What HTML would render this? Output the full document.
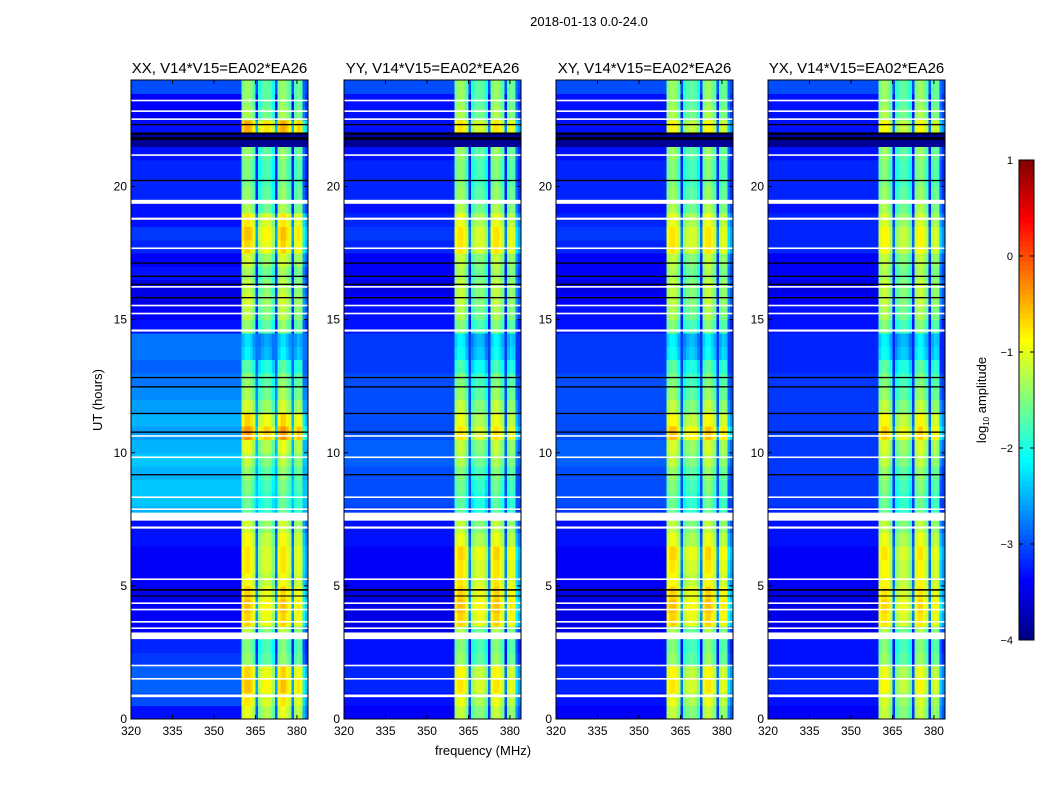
<!DOCTYPE html>
<html><head><meta charset="utf-8">
<style>
body{margin:0;background:#fff;font-family:"Liberation Sans",sans-serif;}
svg text{font-family:"Liberation Sans",sans-serif;fill:#000;}
</style></head>
<body>
<svg id="fig" width="1050" height="800" xmlns="http://www.w3.org/2000/svg">
<rect width="1050" height="800" fill="#fff"/>
<text x="589" y="26" font-size="13" text-anchor="middle">2018-01-13 0.0-24.0</text>
<text x="483" y="755" font-size="13" text-anchor="middle">frequency (MHz)</text>
<text x="102" y="400" font-size="13" text-anchor="middle" transform="rotate(-90 102 400)">UT (hours)</text>
<g id="panels"></g>
<g id="cbar"></g>
</svg>
<script>
// ---- data ----
const panelTitles = ["XX, V14*V15=EA02*EA26","YY, V14*V15=EA02*EA26","XY, V14*V15=EA02*EA26","YX, V14*V15=EA02*EA26"];
const xTicks = [320,335,350,365,380];
const yTicks = [0,5,10,15,20];
const cbTicks = [-4,-3,-2,-1,0,1];
// in-band column offset (1 MHz columns, 320..383)
const bandShape = [null,null,null,null,null,null,null,null,null,null,null,null,null,null,null,null,
 null,null,null,null,null,null,null,null,null,null,null,null,null,null,null,null,
 null,null,null,null,null,null,null,null,-0.2,0,0,-0.1,-0.4,-2.0,-0.6,-0.4,
 -0.3,-0.3,-0.4,-0.7,-2.0,-0.2,0,0,-0.2,-0.4,-2.0,-0.4,-0.2,-0.3,-1.5,-1.8];
// half-hour rows 0..23.5 h
const bgXX = [-3.3,-3.0,-2.9,-2.9,-3.1,-3.2,-3.4,-3.4,-3.4,-3.5,-3.4,-3.4,-3.4,-3.3,-3.3,-2.5,-2.4,-2.4,-2.5,-2.4,-2.5,-2.6,-2.5,-2.6,-2.7,-2.8,-2.9,-2.8,-2.8,-3.3,-3.4,-3.5,-3.5,-3.3,-3.4,-3.2,-3.1,-3.3,-3.3,-3.2,-3.2,-3.2,-3.3,-3.9,-3.3,-3.4,-3.4,-3.0];
const bandXX = [-0.8,-0.6,-0.4,-0.5,-1.2,-1.3,-1.0,-0.5,-0.4,-0.5,-0.7,-0.6,-0.6,-0.7,-0.9,-1.4,-1.4,-1.3,-1.2,-1.0,-0.8,-0.2,-0.5,-0.9,-1.1,-1.2,-1.5,-2.0,-2.1,-1.2,-1.0,-0.9,-1.0,-1.1,-0.9,-0.5,-0.4,-0.6,-1.1,-1.2,-1.3,-1.3,-1.2,-2.5,-0.3,-1.1,-1.2,-1.2];
const bgYY = [-3.4,-3.3,-3.2,-3.2,-3.3,-3.3,-3.5,-3.5,-3.5,-3.5,-3.4,-3.4,-3.4,-3.3,-3.3,-3.1,-3.0,-3.0,-3.0,-2.9,-2.9,-3.0,-3.0,-3.0,-3.0,-3.0,-3.1,-3.1,-3.1,-3.3,-3.3,-3.4,-3.5,-3.4,-3.4,-3.2,-3.1,-3.2,-3.3,-3.2,-3.2,-3.2,-3.3,-3.9,-3.3,-3.3,-3.3,-3.0];
const bandYY = [-1.0,-0.8,-0.6,-0.7,-1.2,-1.3,-1.1,-0.5,-0.4,-0.5,-0.6,-0.6,-0.5,-0.8,-1.0,-1.5,-1.5,-1.4,-1.3,-1.1,-1.0,-0.6,-0.8,-1.0,-1.2,-1.3,-1.6,-1.9,-2.0,-1.3,-1.1,-1.0,-1.0,-1.1,-1.0,-0.6,-0.6,-0.8,-1.1,-1.2,-1.3,-1.3,-1.2,-2.5,-0.6,-1.1,-1.2,-1.2];
const bgXY = [-3.4,-3.3,-3.2,-3.2,-3.3,-3.3,-3.5,-3.5,-3.5,-3.5,-3.4,-3.4,-3.4,-3.3,-3.3,-3.1,-3.0,-3.0,-3.0,-2.9,-2.9,-3.0,-3.0,-3.0,-3.0,-3.0,-3.1,-3.1,-3.1,-3.3,-3.3,-3.4,-3.5,-3.4,-3.4,-3.2,-3.1,-3.2,-3.3,-3.2,-3.2,-3.2,-3.3,-3.9,-3.3,-3.3,-3.3,-3.0];
const bandXY = [-1.0,-0.8,-0.6,-0.7,-1.2,-1.3,-1.1,-0.5,-0.4,-0.5,-0.7,-0.6,-0.5,-0.8,-1.0,-1.4,-1.4,-1.3,-1.2,-1.0,-0.9,-0.4,-0.7,-1.0,-1.2,-1.3,-1.5,-1.9,-2.0,-1.3,-1.1,-1.0,-1.0,-1.1,-1.0,-0.6,-0.6,-0.8,-1.1,-1.2,-1.3,-1.3,-1.2,-2.5,-0.7,-1.1,-1.2,-1.2];
const bgYX = [-3.4,-3.3,-3.2,-3.2,-3.3,-3.3,-3.5,-3.5,-3.5,-3.5,-3.4,-3.4,-3.4,-3.3,-3.3,-3.2,-3.1,-3.1,-3.1,-3.1,-3.1,-3.1,-3.1,-3.1,-3.1,-3.1,-3.2,-3.2,-3.2,-3.3,-3.3,-3.4,-3.5,-3.4,-3.4,-3.2,-3.2,-3.2,-3.3,-3.2,-3.2,-3.2,-3.3,-3.9,-3.3,-3.3,-3.3,-3.0];
const bandYX = [-1.0,-0.9,-0.7,-0.8,-1.2,-1.3,-1.1,-0.6,-0.5,-0.6,-0.7,-0.7,-0.6,-0.8,-1.0,-1.4,-1.4,-1.3,-1.2,-1.0,-0.9,-0.5,-0.7,-1.0,-1.2,-1.3,-1.5,-1.9,-2.0,-1.3,-1.1,-1.0,-1.0,-1.1,-1.0,-0.7,-0.7,-0.9,-1.1,-1.2,-1.3,-1.3,-1.2,-2.5,-0.7,-1.1,-1.2,-1.2];
// flagged (white) and dropout (black) times in hours: [start, thickness]
const whiteRows = [[0.82,0.1],[1.48,0.06],[1.98,0.06],[3.0,0.25],[3.38,0.06],[3.62,0.06],[4.08,0.06],[4.32,0.06],[5.22,0.06],[7.15,0.08],[7.45,0.3],[7.85,0.06],[8.3,0.06],[9.8,0.06],[10.6,0.06],[14.55,0.08],[15.2,0.06],[15.5,0.06],[16.2,0.06],[17.65,0.06],[18.75,0.08],[19.35,0.15],[21.15,0.06],[22.5,0.06],[22.8,0.06],[23.2,0.06]];
const blackRows = [[4.82,0.06],[4.6,0.04],[9.15,0.05],[10.75,0.05],[11.45,0.05],[12.45,0.05],[12.8,0.05],[15.8,0.05],[16.3,0.05],[16.6,0.05],[17.1,0.05],[20.2,0.05],[21.75,0.1],[21.95,0.08],[22.3,0.05]];

const bgs=[bgXX,bgYY,bgXY,bgYX], bands=[bandXX,bandYY,bandXY,bandYX];
const panelLeft=[131,344,556,768], PW=177, PT=80, PB=719;
const fmin=320,fmax=384,tmax=24;

function jet(v){
  let t=(v+4)/5; t=Math.max(0,Math.min(1,t));
  const c=x=>Math.round(255*Math.max(0,Math.min(1,x)));
  return `rgb(${c(1.5-Math.abs(4*t-3))},${c(1.5-Math.abs(4*t-2))},${c(1.5-Math.abs(4*t-1))})`;
}
const NS="http://www.w3.org/2000/svg";
function mk(tag,attrs,parent){const e=document.createElementNS(NS,tag);for(const k in attrs)e.setAttribute(k,attrs[k]);parent.appendChild(e);return e;}
const root=document.getElementById('panels');

for(let p=0;p<4;p++){
  const L=panelLeft[p];
  const xs=f=>L+(f-fmin)/(fmax-fmin)*PW;
  const ys=h=>PB-h/tmax*(PB-PT);
  const g=mk('g',{},root);
  
  
  const cells=mk('g',{'shape-rendering':'crispEdges'},g);
  
  
  const bg=bgs[p], bd=bands[p];
  for(let i=0;i<bg.length;i++){
    const y0=ys((i+1)*0.5), y1=ys(i*0.5);
    mk('rect',{x:xs(fmin),y:y0,width:xs(360)-xs(fmin)+0.5,height:y1-y0+0.5,fill:jet(bg[i])},cells);
    for(let j=40;j<bandShape.length;j++){
      const v = bd[i]<=-2.4 ? bg[i] : Math.max(bg[i], bd[i]-0.15+bandShape[j]);
      mk('rect',{x:xs(fmin+j),y:y0,width:xs(fmin+j+1)-xs(fmin+j)+0.5,height:y1-y0+0.5,fill:jet(v)},cells);
    }
  }
  for(const [t,h] of whiteRows){const e=mk('rect',{x:L,y:ys(t+h),width:PW,height:Math.max(1.2,ys(t)-ys(t+h)),fill:'#fff'},g);}
  for(const [t,h] of blackRows){const e=mk('rect',{x:L,y:ys(t+h),width:PW,height:Math.max(1,ys(t)-ys(t+h)),fill:'#000'},g);}
  const fr=mk('rect',{x:L,y:PT,width:PW,height:PB-PT,fill:'none',stroke:'#000','stroke-width':1},g);
  
  const tt=mk('text',{x:L+PW/2,y:PT-7,'font-size':15,'text-anchor':'middle'},g);tt.textContent=panelTitles[p];
  
  for(const f of xTicks){
    const x=xs(f);
    mk('line',{x1:x,x2:x,y1:PB,y2:PB-4,stroke:'#000'},g);
    mk('line',{x1:x,x2:x,y1:PT,y2:PT+4,stroke:'#000'},g);
    const t=mk('text',{x:x,y:PB+16,'font-size':12,'text-anchor':'middle'},g);t.textContent=f;
    
  }
  for(const h of yTicks){
    const y=ys(h);
    mk('line',{x1:L,x2:L+4,y1:y,y2:y,stroke:'#000'},g);
    mk('line',{x1:L+PW,x2:L+PW-4,y1:y,y2:y,stroke:'#000'},g);
    const t=mk('text',{x:L-4,y:y+4,'font-size':12,'text-anchor':'end'},g);t.textContent=h;
    
  }
}
// colorbar
const cb=document.getElementById('cbar');
const cx=1019,cw=15,ct=160,cbt=640;
const cys=v=>cbt-(v+4)/5*(cbt-ct);
for(let k=0;k<100;k++){const v0=-4+k*0.05;mk('rect',{x:cx,y:cys(v0+0.05),width:cw,height:(cbt-ct)/100+0.5,fill:jet(v0+0.025),'shape-rendering':'crispEdges'},cb);}
mk('rect',{x:cx,y:ct,width:cw,height:cbt-ct,fill:'none',stroke:'#000'},cb);
for(const v of cbTicks){
  const y=cys(v);
  mk('line',{x1:cx,x2:cx+4,y1:y,y2:y,stroke:'#000'},cb);
  mk('line',{x1:cx+cw,x2:cx+cw-4,y1:y,y2:y,stroke:'#000'},cb);
  const t=mk('text',{x:cx-6,y:y+4,'font-size':11,'text-anchor':'end'},cb);t.textContent=(v<0?'\u2212'+(-v):v);
  
}
const lab=mk('text',{x:986,y:400,'font-size':13,'text-anchor':'middle',transform:'rotate(-90 986 400)'},cb);
lab.innerHTML='log<tspan font-size="8" dy="3">10</tspan><tspan dy="-3"> amplitude</tspan>';


</script>
</body></html>
